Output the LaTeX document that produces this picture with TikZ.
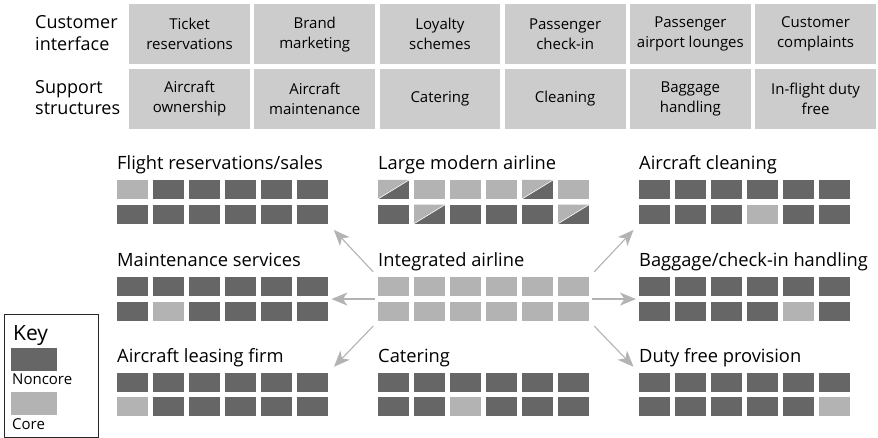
\documentclass[tikz,border=0pt]{standalone}
\usepackage{fontspec}
\setmainfont{Open Sans}
\usetikzlibrary{arrows.meta,positioning}

\definecolor{noncore}{HTML}{666666}
\definecolor{core}{HTML}{B3B3B3}
\definecolor{cellgray}{HTML}{CCCCCC}
\definecolor{arrowgray}{HTML}{B3B3B3}

\tikzset{
  cell/.style={fill=cellgray, minimum width=120.7pt, minimum height=60.3pt,
    inner sep=0pt, align=center, font=\fontsize{15}{20}\selectfont},
  rowlabel/.style={anchor=west, align=left, inner sep=0pt,
    font=\fontsize{18}{21.5}\selectfont},
  gridlabel/.style={anchor=base west, inner sep=0pt, font=\fontsize{18.3}{20}\selectfont},
  gridbox/.style={minimum width=211pt, minimum height=43.7pt, inner sep=0pt,
    anchor=north west},
  arr/.style={draw=arrowgray, line width=1.1pt,
    -{Stealth[length=16pt,width=13pt,inset=4.5pt]}, shorten <=7pt, shorten >=8pt}
}

% squares of one firm: dark everywhere, light at the listed row/column
\newcommand\firmgrid[2]{%
  \begin{scope}[shift={(#1.north west)}]
    \foreach \c in {0,...,5} \foreach \r in {0,1}
      \fill[noncore] (\c*36,\r*24.7) rectangle +(31,19);
    \foreach \r/\c in {#2}
      \fill[core] (\c*36,\r*24.7) rectangle +(31,19);
  \end{scope}}

\begin{document}
\begin{tikzpicture}[x=1pt,y=-1pt]
  \useasboundingbox (0,0) rectangle (878,438);

  % value chain
  \node[rowlabel] (cust) at (35,33) {Customer\\interface};
  \node[rowlabel] (supp) at (35,97.5) {Support\\structures};

  \node[cell, anchor=north west] (c11) at (129,4) {Ticket\\reservations};
  \node[cell, right=4.1pt of c11] (c12) {Brand\\marketing};
  \node[cell, right=4.1pt of c12] (c13) {Loyalty\\schemes};
  \node[cell, right=4.1pt of c13] (c14) {Passenger\\check-in};
  \node[cell, right=4.1pt of c14] (c15) {Passenger\\airport lounges};
  \node[cell, right=4.1pt of c15] (c16) {Customer\\complaints};

  \node[cell, below=4pt of c11] (c21) {Aircraft\\ownership};
  \node[cell, right=4.1pt of c21] (c22) {Aircraft\\maintenance};
  \node[cell, right=4.1pt of c22] (c23) {Catering};
  \node[cell, right=4.1pt of c23] (c24) {Cleaning};
  \node[cell, right=4.1pt of c24] (c25) {Baggage\\handling};
  \node[cell, right=4.1pt of c25] (c26) {In-flight duty\\free};

  % firms
  \node[gridbox] (flight) at (117,180) {};
  \node[gridbox] (large)  at (378,180) {};
  \node[gridbox] (clean)  at (639,180) {};
  \node[gridbox] (maint)  at (117,277) {};
  \node[gridbox] (integ)  at (378,277) {};
  \node[gridbox] (bag)    at (639,277) {};
  \node[gridbox] (lease)  at (117,372.5) {};
  \node[gridbox] (cater)  at (378,372.5) {};
  \node[gridbox] (duty)   at (639,372.5) {};

  \node[gridlabel] (flight-l) at ([yshift=10pt]flight.north west) {Flight reservations/sales};
  \node[gridlabel] (large-l)  at ([yshift=10pt]large.north west) {Large modern airline};
  \node[gridlabel] (clean-l)  at ([yshift=10pt]clean.north west) {Aircraft cleaning};
  \node[gridlabel] (maint-l)  at ([yshift=10pt]maint.north west) {Maintenance services};
  \node[gridlabel] (integ-l)  at ([yshift=10pt]integ.north west) {Integrated airline};
  \node[gridlabel] (bag-l)    at ([yshift=10pt]bag.north west) {Baggage/check-in handling};
  \node[gridlabel] (lease-l)  at ([yshift=10pt]lease.north west) {Aircraft leasing firm};
  \node[gridlabel] (cater-l)  at ([yshift=10pt]cater.north west) {Catering};
  \node[gridlabel] (duty-l)   at ([yshift=10pt]duty.north west) {Duty free provision};

  \firmgrid{flight}{0/0}
  \firmgrid{large}{0/1,0/2,0/3,0/5}
  \firmgrid{clean}{1/3}
  \firmgrid{maint}{1/1}
  \firmgrid{integ}{0/0,0/1,0/2,0/3,0/4,0/5,1/0,1/1,1/2,1/3,1/4,1/5}
  \firmgrid{bag}{1/4}
  \firmgrid{lease}{1/0}
  \firmgrid{cater}{1/2}
  \firmgrid{duty}{1/5}

  % shared activities of the large airline
  \begin{scope}[shift={(large.north west)}]
    \foreach \r/\c in {0/0,0/4,1/1,1/5} {
      \fill[core] (\c*36,\r*24.7+19) -- +(0,-19) -- +(31,-19) -- cycle;
      \draw[white, line width=0.6pt] (\c*36,\r*24.7+19) -- +(31,-19);
    }
  \end{scope}

  % break-up of the integrated airline
  \draw[arr] (integ.north west) -- (flight.south east);
  \draw[arr, shorten <=3pt, shorten >=3pt] (integ.west) -- (maint.east);
  \draw[arr] (integ.south west) -- (lease.north east);
  \draw[arr] (integ.north east) -- (clean.south west);
  \draw[arr, shorten <=3pt, shorten >=3pt] (integ.east) -- (bag.west);
  \draw[arr] (integ.south east) -- (duty.north west);

  % key
  \node[draw=black!85, line width=0.8pt, minimum width=94pt, minimum height=122.5pt,
    inner sep=0pt, anchor=north west] (key) at (3.5,314) {};
  \node[anchor=base west, inner sep=0pt, font=\fontsize{21}{24}\selectfont] (key-t) at (13,340) {Key};
  \fill[noncore] (11,348.3) rectangle (56.7,371);
  \node[anchor=base west, inner sep=0pt, font=\fontsize{15}{18}\selectfont] (key-n) at (12,384.5) {Noncore};
  \fill[core] (11,391.7) rectangle (56.7,415);
  \node[anchor=base west, inner sep=0pt, font=\fontsize{15}{18}\selectfont] (key-c) at (12,429.5) {Core};
\end{tikzpicture}
\end{document}
